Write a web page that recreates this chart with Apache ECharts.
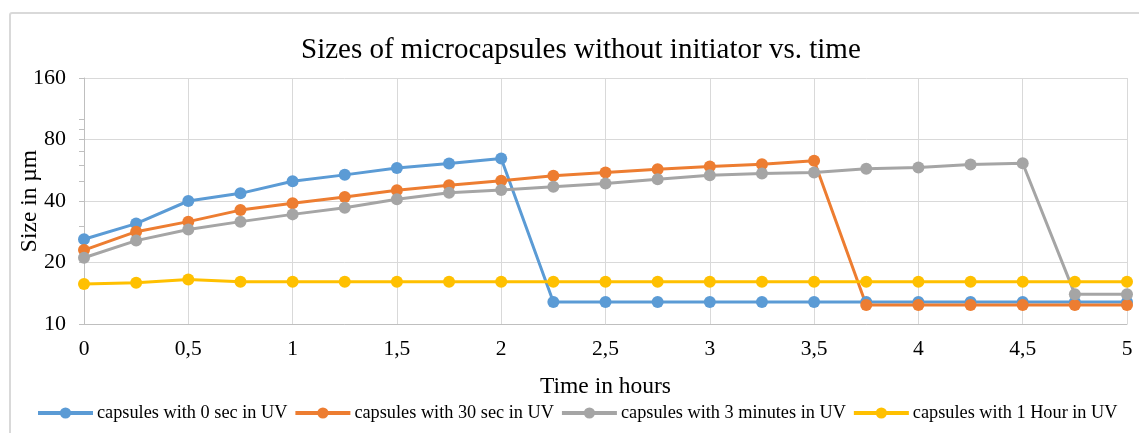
<!DOCTYPE html>
<html>
<head>
<meta charset="utf-8">
<script src="https://cdn.jsdelivr.net/npm/echarts@6/dist/echarts.min.js"></script>
<style>
  html, body { margin: 0; padding: 0; background: #ffffff; }
  #chart { width: 1139px; height: 433px; }
</style>
</head>
<body>
<div id="chart"></div>
<script>
// Time points in hours
const hours = [0, 0.25, 0.5, 0.75, 1, 1.25, 1.5, 1.75, 2, 2.25, 2.5, 2.75, 3, 3.25, 3.5, 3.75, 4, 4.25, 4.5, 4.75, 5];

// Capsule sizes in µm for each UV exposure
const uv0sec  = [26, 31, 40, 43.6, 50, 53.7, 58, 61, 64.6, 12.8, 12.8, 12.8, 12.8, 12.8, 12.8, 12.8, 12.8, 12.8, 12.8, 12.8, 12.8];
const uv30sec = [23, 28.3, 31.7, 36.1, 39, 41.8, 45.1, 47.8, 50.2, 53.1, 55.1, 57.2, 59, 60.5, 62.9, 12.4, 12.4, 12.4, 12.4, 12.4, 12.4];
const uv3min  = [21.1, 25.6, 29, 31.7, 34.4, 37.1, 40.8, 43.9, 45.3, 47, 48.7, 51.1, 53.5, 54.5, 55.1, 57.6, 58.3, 60.3, 61.2, 14, 14];
const uv1hour = [15.7, 15.9, 16.5, 16.1, 16.1, 16.1, 16.1, 16.1, 16.1, 16.1, 16.1, 16.1, 16.1, 16.1, 16.1, 16.1, 16.1, 16.1, 16.1, 16.1, 16.1];

const seriesNames = [
  'capsules with 0 sec in UV',
  'capsules with 30 sec in UV',
  'capsules with 3 minutes in UV',
  'capsules with 1 Hour in UV'
];
const seriesColors = ['#5b9bd5', '#ed7d31', '#a5a5a5', '#ffc000'];

// Y axis ticks (log base 2)
const yMajorTicks = [10, 20, 40, 80, 160];
const yMinorTicks = [30, 50, 60, 70, 90, 100];

const font = '"Liberation Serif", "Times New Roman", serif';

const pairs = v => hours.map((h, i) => [h, v[i]]);
const allValues = [uv0sec, uv30sec, uv3min, uv1hour];

const chart = echarts.init(document.getElementById('chart'));
chart.setOption({
  backgroundColor: '#ffffff',
  animation: false,
  graphic: [{
    type: 'rect',
    shape: { x: 10, y: 13, width: 1140, height: 430, r: 2 },
    style: { fill: 'none', stroke: '#d9d9d9', lineWidth: 2 },
    silent: true, z: -1
  }],
  title: {
    text: 'Sizes of microcapsules without initiator vs. time',
    left: 301,
    top: 36,
    padding: 0,
    textStyle: { fontFamily: font, fontSize: 29, fontWeight: 'normal', color: '#000000' }
  },
  legend: {
    bottom: 11,
    left: 36,
    padding: 0,
    itemWidth: 55,
    itemHeight: 14,
    itemGap: 6,
    lineStyle: { width: 4 },
    textStyle: { fontFamily: font, fontSize: 18.3, color: '#000000', padding: [0, 0, 0, -1] },
    data: seriesNames
  },
  grid: { left: 84, right: 12, top: 78, bottom: 109, containLabel: false, outerBoundsMode: 'none' },
  xAxis: {
    type: 'value',
    min: 0, max: 5, interval: 0.5,
    name: 'Time in hours',
    nameLocation: 'middle',
    nameGap: 51,
    nameMoveOverlap: false,
    nameTextStyle: { fontFamily: font, fontSize: 23.5, color: '#000000' },
    axisLine: { show: true, lineStyle: { color: '#bfbfbf', width: 1 } },
    axisTick: { show: false },
    axisLabel: {
      margin: 14,
      fontFamily: font, fontSize: 21.5, color: '#000000',
      formatter: v => String(v).replace('.', ',')
    },
    splitLine: { show: true, lineStyle: { color: '#d9d9d9', width: 1 } }
  },
  yAxis: [{
    type: 'log',
    logBase: 2,
    min: 10, max: 160,
    name: 'Size in µm',
    nameLocation: 'middle',
    nameGap: 42,
    nameMoveOverlap: false,
    nameTextStyle: { fontFamily: font, fontSize: 23.5, color: '#000000' },
    axisLine: { show: true, lineStyle: { color: '#bfbfbf', width: 1 } },
    axisTick: { show: true, length: 5, customValues: yMajorTicks, lineStyle: { color: '#bfbfbf' } },
    axisLabel: {
      customValues: yMajorTicks,
      margin: 18,
      fontFamily: font, fontSize: 22, color: '#000000'
    },
    splitLine: { show: true, lineStyle: { color: '#d9d9d9', width: 1 } }
  }, {
    type: 'log',
    logBase: 2,
    min: 10, max: 160,
    position: 'left',
    axisLine: { show: false },
    axisTick: { show: true, length: 5, customValues: yMinorTicks, lineStyle: { color: '#bfbfbf' } },
    axisLabel: { show: false },
    splitLine: { show: false }
  }],
  series: seriesNames.map((name, i) => ({
    name: name,
    type: 'line',
    yAxisIndex: 0,
    data: pairs(allValues[i]),
    symbol: 'circle',
    symbolSize: 12,
    showSymbol: true,
    color: seriesColors[i],
    lineStyle: { width: 3, color: seriesColors[i] },
    itemStyle: { color: seriesColors[i] }
  }))
});
</script>
</body>
</html>
